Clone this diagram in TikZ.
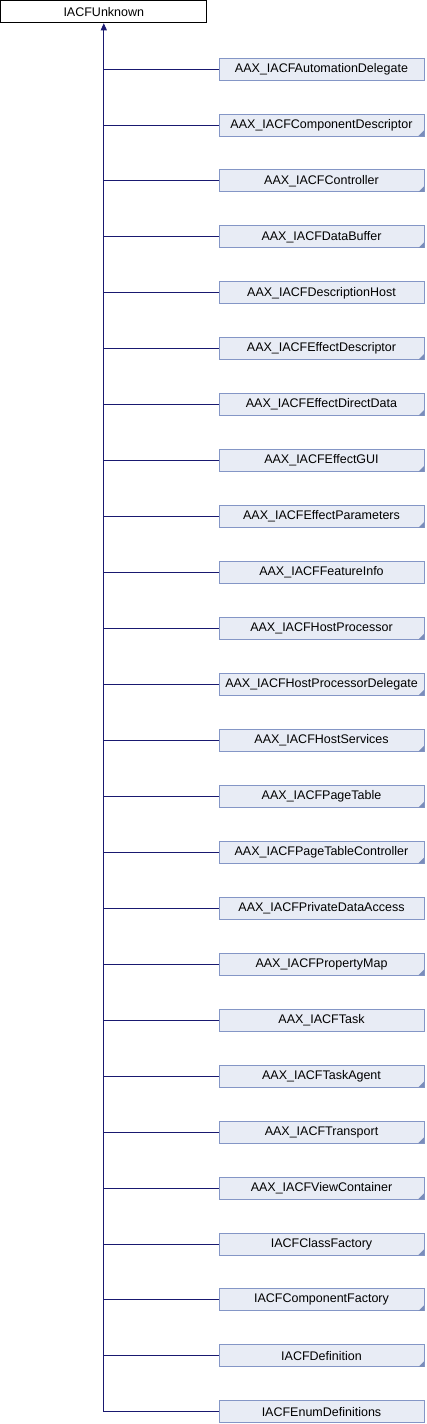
\documentclass[tikz,border=0pt]{standalone}
\usepackage{fontspec}
\setmainfont{Liberation Sans}
\usetikzlibrary{arrows.meta}
\definecolor{edgeblue}{HTML}{191970}
\definecolor{boxedge}{HTML}{8496C6}
\definecolor{boxfill}{HTML}{E8ECF5}
\definecolor{morefill}{HTML}{7A8DBA}
\tikzset{
  base/.style={draw=black, fill=white, line width=0.9pt, minimum width=206pt,
               minimum height=22pt, inner sep=0pt, font=\fontsize{12.5}{14}\selectfont},
  derived/.style={draw=boxedge, fill=boxfill, line width=0.9pt, minimum width=205pt,
                  minimum height=22pt, inner sep=0pt, font=\fontsize{12.5}{14}\selectfont},
  inherit/.style={draw=edgeblue, line width=0.9pt},
  inherittip/.style={{Triangle[length=7pt,width=6pt]}-, draw=edgeblue, fill=edgeblue,
                     line width=0.9pt},
}

\begin{document}
\begin{tikzpicture}[x=1pt,y=1pt]
\useasboundingbox (0,0) rectangle (426,-1424);
% the base interface
\node[base] (unk) at (103.8,-11.8) {IACFUnknown};
% derived interfaces; flag 1 = box carries the corner mark
\foreach \name/\more [count=\i from 0] in {
    AAX\_IACFAutomationDelegate/0, AAX\_IACFComponentDescriptor/1,
    AAX\_IACFController/1, AAX\_IACFDataBuffer/1, AAX\_IACFDescriptionHost/0,
    AAX\_IACFEffectDescriptor/1, AAX\_IACFEffectDirectData/1,
    AAX\_IACFEffectGUI/1, AAX\_IACFEffectParameters/1, AAX\_IACFFeatureInfo/0,
    AAX\_IACFHostProcessor/1, AAX\_IACFHostProcessorDelegate/1,
    AAX\_IACFHostServices/1, AAX\_IACFPageTable/1,
    AAX\_IACFPageTableController/1, AAX\_IACFPrivateDataAccess/0,
    AAX\_IACFPropertyMap/1, AAX\_IACFTask/0, AAX\_IACFTaskAgent/1,
    AAX\_IACFTransport/1, AAX\_IACFViewContainer/1, IACFClassFactory/1,
    IACFComponentFactory/1, IACFDefinition/1, IACFEnumDefinitions/0}{
  \node[derived] (c\i) at (321.5,{-69-55.95*\i}) {\name};
  \ifnum\more=1
    \fill[morefill] (c\i.south east) ++(-0.5,0.5) -- ++(-5.5,0) -- ++(5.5,5.5) -- cycle;
  \fi
  \draw[inherit] (c\i.west) -- (c\i.west -| unk.south);
}
% the trunk with the inheritance arrow
\draw[inherittip] (unk.south) -- (c24.west -| unk.south);
\end{tikzpicture}
\end{document}
